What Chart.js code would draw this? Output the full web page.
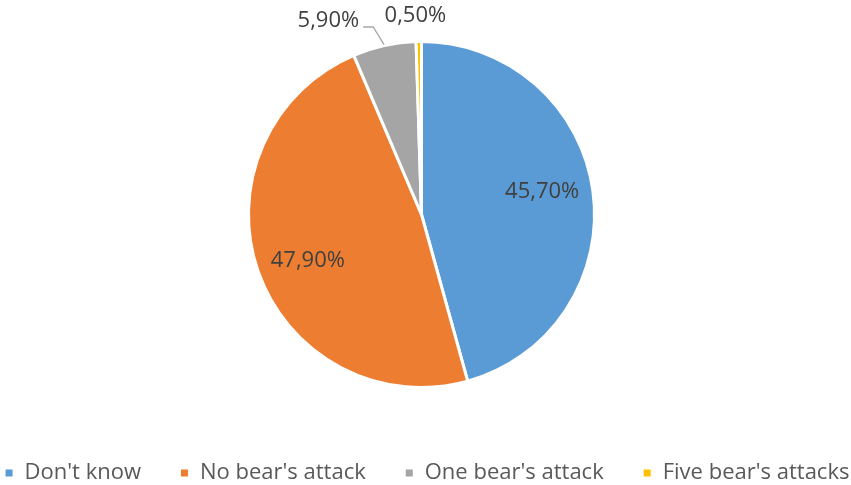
<!DOCTYPE html>
<html lang="en">
<head>
  <meta charset="UTF-8">
  <title>Bear attacks</title>
  <script src="https://cdn.jsdelivr.net/npm/chart.js@4"></script>
  <style>
    html, body { margin: 0; padding: 0; background: #fff; }
    .wrap { position: relative; width: 851px; height: 485px; }
  </style>
</head>
<body>
  <div class="wrap"><canvas id="chart" width="851" height="485"></canvas></div>
  <script>
    const labels = ["Don't know", "No bear's attack", "One bear's attack", "Five bear's attacks"];
    const shares = [45.7, 47.9, 5.9, 0.5];
    const colors = ['#5B9BD5', '#ED7D31', '#A5A5A5', '#FFC000'];
    // which slices get their label outside the pie (with a leader line for the gray one)
    const outside = [false, false, true, true];

    const FONT = '"Open Sans", "DejaVu Sans", sans-serif';
    const fmt = v => v.toFixed(2).replace('.', ',') + '%';

    const labelPlugin = {
      id: 'sliceLabels',
      afterDatasetsDraw(chart) {
        const ctx = chart.ctx;
        const arcs = chart.getDatasetMeta(0).data;
        ctx.save();
        ctx.font = '22px ' + FONT;
        ctx.fillStyle = '#404040';
        ctx.textBaseline = 'middle';
        arcs.forEach((arc, i) => {
          const { x, y, startAngle, endAngle, outerRadius: r } = arc.getProps(['x', 'y', 'startAngle', 'endAngle', 'outerRadius'], true);
          const mid = (startAngle + endAngle) / 2;
          const text = fmt(shares[i]);
          if (!outside[i]) {
            const a = mid - 3 * Math.PI / 180;
            ctx.textAlign = 'center';
            ctx.fillText(text, x + Math.cos(a) * r * 0.71, y + Math.sin(a) * r * 0.71);
          } else if (i === 2) {
            const sx = x + Math.cos(mid) * (r + 1), sy = y + Math.sin(mid) * (r + 1);
            const ex = x + Math.cos(mid) * (r + 19) - 7, ey = y + Math.sin(mid) * (r + 19);
            ctx.strokeStyle = '#A6A6A6';
            ctx.lineWidth = 1.3;
            ctx.beginPath();
            ctx.moveTo(sx, sy);
            ctx.lineTo(ex, ey);
            ctx.lineTo(ex - 10, ey);
            ctx.stroke();
            ctx.textAlign = 'right';
            ctx.fillText(text, ex - 14, ey - 6);
          } else {
            ctx.textAlign = 'center';
            ctx.fillText(text, x + Math.cos(mid) * (r + 26) - 3, y + Math.sin(mid) * (r + 26));
          }
        });
        ctx.restore();
      }
    };

    // bottom legend: small squares followed by the category name
    const legendPlugin = {
      id: 'bottomLegend',
      afterDraw(chart) {
        const ctx = chart.ctx;
        ctx.save();
        ctx.font = '22px ' + FONT;
        const box = 7, gapBox = 12, gapItem = 40;
        const widths = labels.map(l => ctx.measureText(l).width);
        const total = widths.reduce((s, w) => s + box + gapBox + w, 0) + gapItem * (labels.length - 1);
        let x = (chart.width - total) / 2 + 2;
        const y = 473;
        ctx.textBaseline = 'middle';
        ctx.textAlign = 'left';
        labels.forEach((l, i) => {
          ctx.fillStyle = colors[i];
          ctx.fillRect(x, y - box / 2, box, box);
          x += box + gapBox;
          ctx.fillStyle = '#595959';
          ctx.fillText(l, x, y);
          x += widths[i] + gapItem;
        });
        ctx.restore();
      }
    };

    new Chart(document.getElementById('chart'), {
      type: 'pie',
      data: {
        labels,
        datasets: [{
          data: shares,
          backgroundColor: colors,
          borderColor: '#FFFFFF',
          borderWidth: 3,
        }],
      },
      options: {
        responsive: false,
        animation: false,
        layout: { padding: { top: 40, bottom: 96, left: 0, right: 8 } },
        plugins: {
          legend: { display: false },
          tooltip: { enabled: false },
        },
      },
      plugins: [labelPlugin, legendPlugin],
    });
  </script>
</body>
</html>
